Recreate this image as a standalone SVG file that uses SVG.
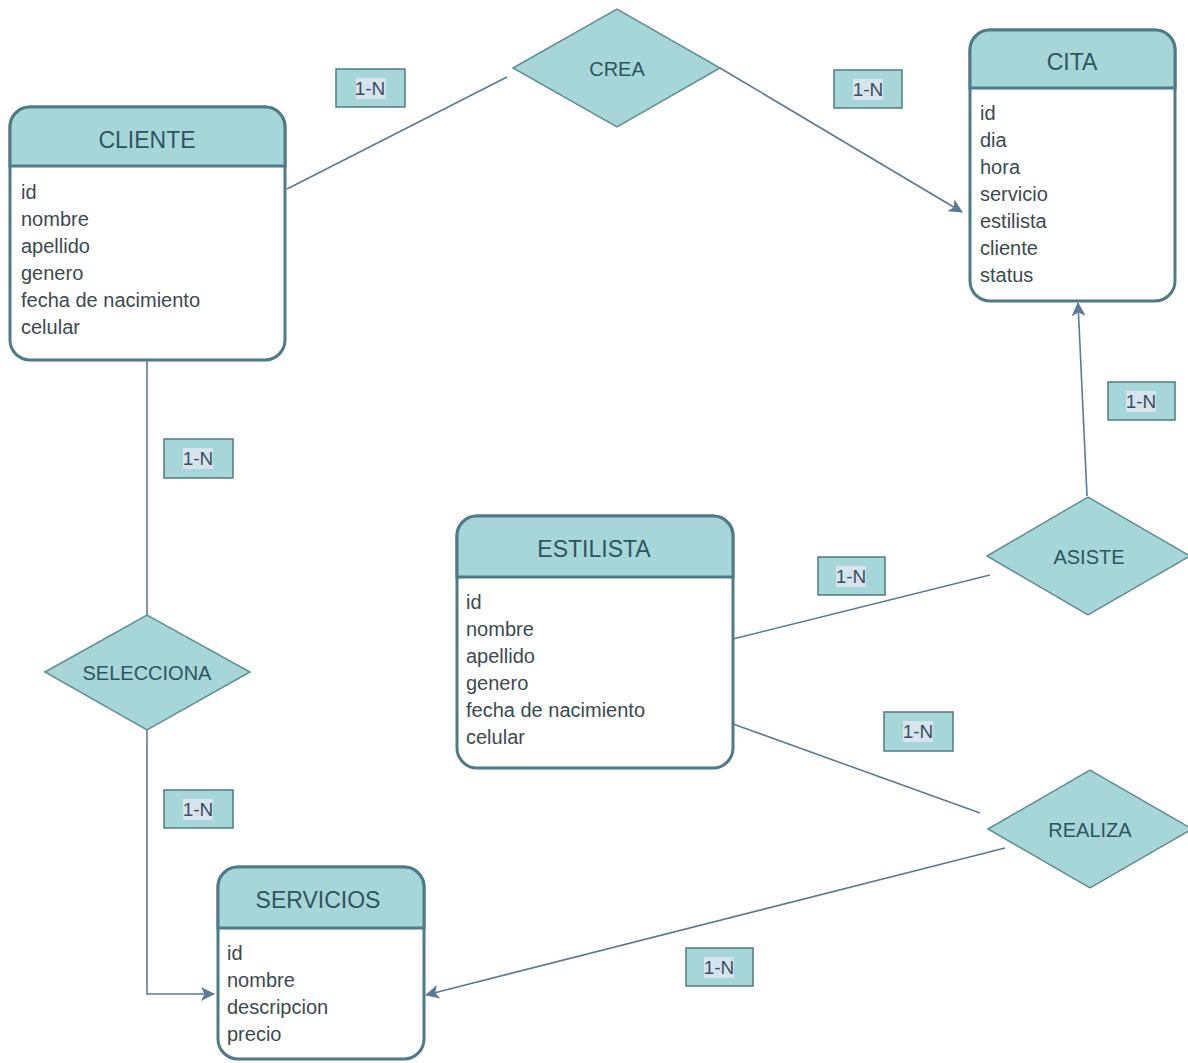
<svg xmlns="http://www.w3.org/2000/svg" width="1188" height="1063" viewBox="0 0 1188 1063">
  <defs>
    <style>
      .box { fill: #ffffff; stroke: #4f7b88; stroke-width: 3; }
      .head { fill: #a7d6d8; stroke: #4f7b88; stroke-width: 3; }
      .title { font-family: "Liberation Sans", Arial, sans-serif; font-size: 23px; fill: #2f5461; text-anchor: middle; }
      .attr { font-family: "Liberation Sans", Arial, sans-serif; font-size: 20px; fill: #3c4a50; }
      .rel { fill: #a7d6d8; stroke: #5f8e96; stroke-width: 1.5; }
      .rel-text { font-family: "Liberation Sans", Arial, sans-serif; font-size: 20px; fill: #2f5461; text-anchor: middle; }
      .card { fill: #a7d6d8; stroke: #4f7b80; stroke-width: 1.5; }
      .card-hl { fill: #d7e4ee; }
      .card-text { font-family: "Liberation Sans", Arial, sans-serif; font-size: 19px; fill: #3a4f60; text-anchor: middle; }
      .conn { fill: none; stroke: #5a7b94; stroke-width: 1.6; }
    </style>
    <marker id="arrow" viewBox="0 0 14 14" refX="13" refY="7" markerWidth="14" markerHeight="14" markerUnits="userSpaceOnUse" orient="auto">
      <path d="M0,0 L14,7 L0,14 L3.5,7 Z" fill="#5a7b94"/>
    </marker>
  </defs>

  <rect width="1188" height="1063" fill="#ffffff"/>

  <!-- connectors -->
  <g id="connectors">
    <line class="conn" x1="287" y1="189" x2="507" y2="77"/>
    <line class="conn" x1="720" y1="68" x2="962" y2="212" marker-end="url(#arrow)"/>
    <line class="conn" x1="1087" y1="496" x2="1078" y2="303" marker-end="url(#arrow)"/>
    <line class="conn" x1="733" y1="639" x2="990" y2="575"/>
    <line class="conn" x1="733" y1="724" x2="980" y2="813"/>
    <line class="conn" x1="1005" y1="848" x2="426" y2="995" marker-end="url(#arrow)"/>
    <line class="conn" x1="147" y1="361" x2="147" y2="615"/>
    <polyline class="conn" points="147,730 147,994 214,994" marker-end="url(#arrow)"/>
  </g>

  <!-- entity: CLIENTE -->
  <g id="cliente">
    <rect class="box" x="10" y="107" width="275" height="253" rx="20"/>
    <path class="head" d="M10,166 V127 A20,20 0 0 1 30,107 H265 A20,20 0 0 1 285,127 V166 Z"/>
    <text class="title" x="147" y="148">CLIENTE</text>
    <text class="attr" x="21" y="199">id</text>
    <text class="attr" x="21" y="226">nombre</text>
    <text class="attr" x="21" y="253">apellido</text>
    <text class="attr" x="21" y="280">genero</text>
    <text class="attr" x="21" y="307">fecha de nacimiento</text>
    <text class="attr" x="21" y="334">celular</text>
  </g>

  <!-- entity: CITA -->
  <g id="cita">
    <rect class="box" x="970" y="30" width="205" height="271" rx="20"/>
    <path class="head" d="M970,88 V50 A20,20 0 0 1 990,30 H1155 A20,20 0 0 1 1175,50 V88 Z"/>
    <text class="title" x="1072" y="70">CITA</text>
    <text class="attr" x="980" y="120">id</text>
    <text class="attr" x="980" y="147">dia</text>
    <text class="attr" x="980" y="174">hora</text>
    <text class="attr" x="980" y="201">servicio</text>
    <text class="attr" x="980" y="228">estilista</text>
    <text class="attr" x="980" y="255">cliente</text>
    <text class="attr" x="980" y="282">status</text>
  </g>

  <!-- entity: ESTILISTA -->
  <g id="estilista">
    <rect class="box" x="457" y="516" width="276" height="252" rx="20"/>
    <path class="head" d="M457,577 V536 A20,20 0 0 1 477,516 H713 A20,20 0 0 1 733,536 V577 Z"/>
    <text class="title" x="594" y="557">ESTILISTA</text>
    <text class="attr" x="466" y="609">id</text>
    <text class="attr" x="466" y="636">nombre</text>
    <text class="attr" x="466" y="663">apellido</text>
    <text class="attr" x="466" y="690">genero</text>
    <text class="attr" x="466" y="717">fecha de nacimiento</text>
    <text class="attr" x="466" y="744">celular</text>
  </g>

  <!-- entity: SERVICIOS -->
  <g id="servicios">
    <rect class="box" x="218" y="867" width="206" height="192" rx="20"/>
    <path class="head" d="M218,928 V887 A20,20 0 0 1 238,867 H404 A20,20 0 0 1 424,887 V928 Z"/>
    <text class="title" x="318" y="908">SERVICIOS</text>
    <text class="attr" x="227" y="960">id</text>
    <text class="attr" x="227" y="987">nombre</text>
    <text class="attr" x="227" y="1014">descripcion</text>
    <text class="attr" x="227" y="1041">precio</text>
  </g>

  <!-- relationship: CREA -->
  <g id="crea">
    <polygon class="rel" points="513,68 617,9 720,68 617,127"/>
    <text class="rel-text" x="617" y="76">CREA</text>
  </g>

  <!-- relationship: ASISTE -->
  <g id="asiste">
    <polygon class="rel" points="987,556 1088,497 1190,556 1088,615"/>
    <text class="rel-text" x="1089" y="564">ASISTE</text>
  </g>

  <!-- relationship: REALIZA -->
  <g id="realiza">
    <polygon class="rel" points="988,829 1090,770 1192,829 1090,888"/>
    <text class="rel-text" x="1090" y="837">REALIZA</text>
  </g>

  <!-- relationship: SELECCIONA -->
  <g id="selecciona">
    <polygon class="rel" points="45,672 147,615 250,672 147,730"/>
    <text class="rel-text" x="147" y="680">SELECCIONA</text>
  </g>

  <!-- cardinality labels -->
  <g id="card-cliente-crea">
    <rect class="card" x="336" y="69" width="69" height="38"/>
    <rect class="card-hl" x="356" y="78" width="30" height="21"/>
    <text class="card-text" x="370" y="95">1-N</text>
  </g>
  <g id="card-crea-cita">
    <rect class="card" x="834" y="70" width="68" height="38"/>
    <rect class="card-hl" x="853" y="79" width="30" height="21"/>
    <text class="card-text" x="868" y="96">1-N</text>
  </g>
  <g id="card-cliente-selecciona">
    <rect class="card" x="164" y="439" width="69" height="39"/>
    <rect class="card-hl" x="183" y="448" width="30" height="21"/>
    <text class="card-text" x="198" y="465">1-N</text>
  </g>
  <g id="card-asiste-cita">
    <rect class="card" x="1108" y="382" width="67" height="38"/>
    <rect class="card-hl" x="1126" y="391" width="30" height="21"/>
    <text class="card-text" x="1141" y="408">1-N</text>
  </g>
  <g id="card-estilista-asiste">
    <rect class="card" x="818" y="557" width="67" height="38"/>
    <rect class="card-hl" x="836" y="566" width="30" height="21"/>
    <text class="card-text" x="851" y="583">1-N</text>
  </g>
  <g id="card-estilista-realiza">
    <rect class="card" x="884" y="712" width="69" height="39"/>
    <rect class="card-hl" x="903" y="721" width="30" height="21"/>
    <text class="card-text" x="918" y="738">1-N</text>
  </g>
  <g id="card-selecciona-servicios">
    <rect class="card" x="164" y="790" width="69" height="38"/>
    <rect class="card-hl" x="183" y="799" width="30" height="21"/>
    <text class="card-text" x="198" y="816">1-N</text>
  </g>
  <g id="card-realiza-servicios">
    <rect class="card" x="686" y="948" width="67" height="38"/>
    <rect class="card-hl" x="704" y="957" width="30" height="21"/>
    <text class="card-text" x="719" y="974">1-N</text>
  </g>
</svg>
